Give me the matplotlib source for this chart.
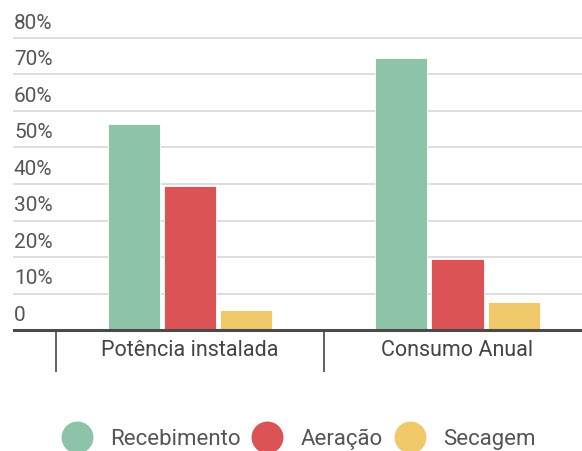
import matplotlib.pyplot as plt
import numpy as np
from matplotlib.lines import Line2D

plt.rcParams["font.family"] = ["Roboto", "DejaVu Sans"]

categories = ["Potência instalada", "Consumo Anual"]
series = ["Recebimento", "Aeração", "Secagem"]
colors = ["#8dc3a7", "#dc5356", "#efc96a"]
values = {
    "Recebimento": [56.4, 74.5],
    "Aeração": [39.5, 19.5],
    "Secagem": [5.5, 7.7],
}
yticks = [0, 10, 20, 30, 40, 50, 60, 70, 80]
ylabels = ["0", "10%", "20%", "30%", "40%", "50%", "60%", "70%", "80%"]

W, H = 582, 451
fig = plt.figure(figsize=(W / 100, H / 100), dpi=100)
# axes box in pixel coords: x 14..582, y 38..330 (from top)
ax = fig.add_axes([14 / W, (H - 330) / H, (W - 14) / W, (330 - 38) / H])

x = np.arange(len(categories))
bw = 0.195
step = 0.21
for i, (name, col) in enumerate(zip(series, colors)):
    ax.bar(x + (i - 1) * step, values[name], width=bw, color=col,
           edgecolor="white", linewidth=0.6, zorder=3)

ax.set_xlim(-0.657, 1.465)
ax.set_ylim(0, 80)

for s in ax.spines.values():
    s.set_visible(False)

# gridlines + labels above them
for v, lab in zip(yticks, ylabels):
    if v > 0:
        ax.axhline(v, color="#dedede", lw=1.4, zorder=1, clip_on=False)
    ax.annotate(lab, xy=(0, v), xycoords=("axes fraction", "data"),
                xytext=(0, 5), textcoords="offset pixels",
                ha="left", va="bottom", fontsize=15, color="#555555")
ax.axhline(0, color="#4a4a4a", lw=2.2, zorder=4, clip_on=False)

ax.set_yticks([])
ax.set_xticks(x)
ax.set_xticklabels(categories, fontsize=15.5, color="#444444")
ax.tick_params(axis="x", which="major", length=0, pad=7)
ax.set_xticks([-0.5, 0.5], minor=True)
ax.tick_params(axis="x", which="minor", length=30, width=1.3, color="#555555")

handles = [Line2D([], [], marker="o", ls="", markersize=23, color=c,
                  markeredgewidth=0) for c in colors]
fig.legend(handles, series, loc="center", bbox_to_anchor=(295 / W, (H - 439) / H),
           ncol=3, frameon=False, fontsize=16, handletextpad=0.5,
           columnspacing=0.2, labelcolor="#555555")

fig.savefig("out.png", dpi=100)
